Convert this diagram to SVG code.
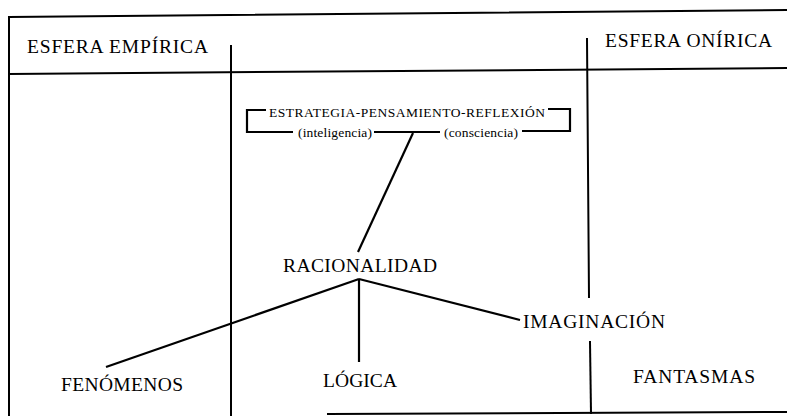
<svg xmlns="http://www.w3.org/2000/svg" width="787" height="417" viewBox="0 0 787 417">
<style>
.frame{stroke:#000;stroke-width:2;fill:none;stroke-linecap:square}
.conn{stroke:#000;stroke-width:2.2;fill:none}
text{font-family:'Liberation Serif','DejaVu Serif',serif;fill:#000}
.big{font-size:19.5px}
.small{font-size:13.5px}
</style>
<rect width="787" height="417" fill="#fff"/>
<g id="frame">
<line class="frame" x1="9" y1="17" x2="787" y2="10"/>
<line class="frame" x1="9" y1="74" x2="787" y2="68"/>
<line class="frame" x1="9" y1="17" x2="9" y2="415"/>
<line class="frame" x1="231" y1="46" x2="231" y2="415"/>
<line class="frame" x1="587" y1="39" x2="589" y2="297"/>
<line class="frame" x1="590" y1="342" x2="591" y2="413"/>
<line class="frame" x1="328" y1="414" x2="787" y2="412"/>
</g>
<g id="esfera-empirica"><text class="big" font-family="Liberation Serif, serif" x="27" y="53" textLength="181" lengthAdjust="spacing">ESFERA EMPÍRICA</text></g>
<g id="esfera-onirica"><text class="big" font-family="Liberation Serif, serif" x="605" y="47" textLength="167" lengthAdjust="spacing">ESFERA ONÍRICA</text></g>
<g id="estrategia">
<text class="small" font-family="Liberation Serif, serif" x="269" y="117" textLength="276" lengthAdjust="spacing">ESTRATEGIA-PENSAMIENTO-REFLEXIÓN</text>
<text class="small" font-family="Liberation Serif, serif" x="298" y="137" textLength="74" lengthAdjust="spacing">(inteligencia)</text>
<text class="small" font-family="Liberation Serif, serif" x="444" y="137" textLength="74" lengthAdjust="spacing">(consciencia)</text>
</g>
<g id="racionalidad"><text class="big" font-family="Liberation Serif, serif" x="283" y="272" textLength="154" lengthAdjust="spacing">RACIONALIDAD</text></g>
<g id="fenomenos"><text class="big" font-family="Liberation Serif, serif" x="61" y="391" textLength="122" lengthAdjust="spacing">FENÓMENOS</text></g>
<g id="logica"><text class="big" font-family="Liberation Serif, serif" x="323" y="387" textLength="74" lengthAdjust="spacing">LÓGICA</text></g>
<g id="imaginacion"><text class="big" font-family="Liberation Serif, serif" x="523" y="328" textLength="142" lengthAdjust="spacing">IMAGINACIÓN</text></g>
<g id="fantasmas"><text class="big" font-family="Liberation Serif, serif" x="633" y="383" textLength="122" lengthAdjust="spacing">FANTASMAS</text></g>
<g id="connectors">
<polyline class="conn" points="266,110 247,110 247,132 293,132"/>
<polyline class="conn" points="548,109 570,109 570,131 522,131"/>
<line class="conn" x1="374" y1="132" x2="440" y2="132"/>
<line class="conn" x1="413" y1="133" x2="358" y2="252"/>
<line class="conn" x1="359" y1="279" x2="106" y2="367"/>
<line class="conn" x1="359" y1="279" x2="359" y2="362"/>
<line class="conn" x1="359" y1="279" x2="520" y2="320"/>
</g>
</svg>
